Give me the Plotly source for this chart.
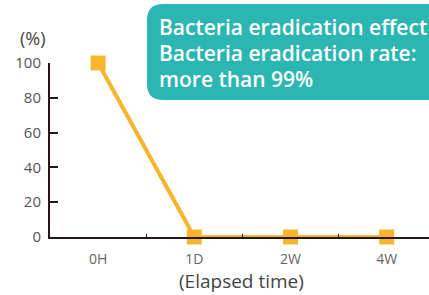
import plotly.graph_objects as go

categories = ["0H", "1D", "2W", "4W"]
values = [100, 0, 0, 0]
y_ticks = [0, 20, 40, 60, 80, 100]

W, H = 429, 295
L, R, T, B = 50, 0, 63, 58
pw, ph = W - L - R, H - T - B

def px(x):
    return (x - L) / pw

def py(y):
    return (H - B - y) / ph

fig = go.Figure()
fig.add_trace(go.Scatter(
    x=categories, y=values, mode="lines+markers",
    line=dict(color="#F7B52C", width=4),
    marker=dict(symbol="square", size=15, color="#F7B52C"),
    cliponaxis=False, showlegend=False, hoverinfo="skip",
))

# rounded rectangle callout
x0, x1, y0, y1, r = px(147), px(470), py(100), py(4), 16
rx, ry = r / pw, r / ph
path = (f"M {x0+rx},{y1} L {x1},{y1} L {x1},{y0} L {x0+rx},{y0} "
        f"Q {x0},{y0} {x0},{y0+ry} L {x0},{y1-ry} Q {x0},{y1} {x0+rx},{y1} Z")
fig.add_shape(type="path", path=path, xref="paper", yref="paper",
              fillcolor="#2CB6B1", line=dict(width=0), layer="above")

lines = ["Bacteria eradication effect", "Bacteria eradication rate:", "more than 99%"]
for i, t in enumerate(lines):
    fig.add_annotation(text=t, xref="paper", yref="paper", x=px(157), y=py(27 + 26 * i),
                       xanchor="left", yanchor="middle", showarrow=False,
                       font=dict(family="Open Sans", size=21, color="white", weight=600))

fig.add_annotation(text="(%)", xref="paper", yref="paper", x=px(33), y=py(38),
                   xanchor="center", yanchor="middle", showarrow=False,
                   font=dict(family="Open Sans", size=18, color="#444444"))
fig.add_annotation(text="(Elapsed time)", xref="paper", yref="paper", x=px(241), y=py(281),
                   xanchor="center", yanchor="middle", showarrow=False,
                   font=dict(family="Open Sans", size=19, color="#444444"))

fig.update_layout(
    width=W, height=H, margin=dict(l=L, r=R, t=T, b=B),
    paper_bgcolor="white", plot_bgcolor="white",
    xaxis=dict(type="category", range=[-0.5, 3.44], showline=True, linecolor="#231815",
               linewidth=2, showgrid=False, zeroline=False, tickson="boundaries",
               ticks="inside", ticklen=3, tickwidth=1, tickcolor="#231815",
               ticklabelstandoff=8,
               tickfont=dict(family="Open Sans", size=14, color="#666666")),
    yaxis=dict(range=[0, 100], tickvals=y_ticks, showline=True, linecolor="#231815",
               linewidth=2, showgrid=False, zeroline=False, ticks="inside", ticklen=8,
               tickwidth=2, tickcolor="#231815", ticklabelstandoff=4,
               tickfont=dict(family="Open Sans", size=15, color="#555555")),
)

fig.write_html("out.html", config={"displayModeBar": False},
               post_script="document.body.style.margin='0';document.body.style.overflow='hidden';")
